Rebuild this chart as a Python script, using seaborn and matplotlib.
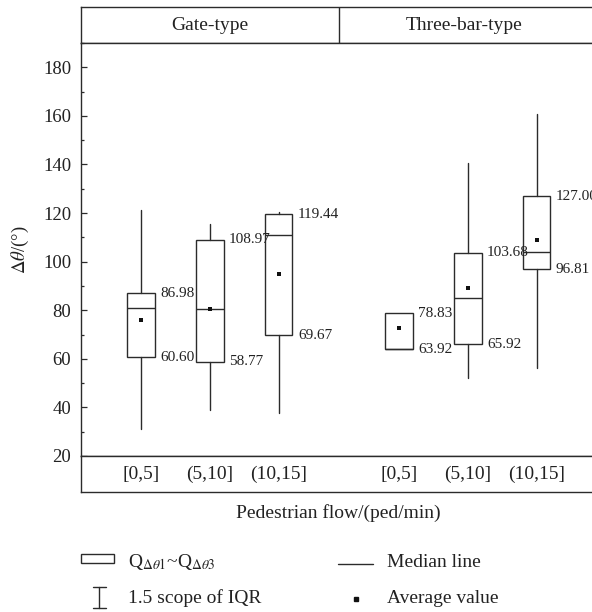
import matplotlib
matplotlib.use("Agg")
import matplotlib.pyplot as plt
from matplotlib.ticker import MultipleLocator
from matplotlib.patches import Rectangle
import seaborn as sns

# Summary statistics (degrees)
groups = ["Gate-type", "Three-bar-type"]
flow_labels = ["[0,5]", "(5,10]", "(10,15]"]
q1 = [60.60, 58.77, 69.67, 63.92, 65.92, 96.81]
q3 = [86.98, 108.97, 119.44, 78.83, 103.68, 127.00]
median = [80.9, 80.5, 111.1, 64.2, 84.9, 103.8]
mean = [75.8, 80.5, 94.9, 72.7, 89.3, 109.1]
whisker_low = [31.1, 39.0, 37.6, 63.92, 52.0, 56.2]
whisker_high = [121.2, 115.7, 120.5, 78.83, 140.7, 160.7]

sns.set_theme(style="ticks")
plt.rcParams["font.family"] = ["Liberation Serif", "DejaVu Serif"]
plt.rcParams["mathtext.fontset"] = "stix"

line_c = "#2b2b2b"
W, H = 592, 612
GAP = 0.75
XLIM = (-0.872, 6.613)
DIVIDER = 2.873

# x positions: three categories per group, a gap between the groups
n = len(flow_labels)
pos = [i + GAP * (i // n) + 0.0 * i for i in range(len(groups) * n)]

fig = plt.figure(figsize=(W / 100, H / 100), dpi=100)
left = 81 / W
width = (596 - 81) / W


def frac_box(top_px, bottom_px):
    return [left, 1 - bottom_px / H, width, (bottom_px - top_px) / H]


ax_head = fig.add_axes(frac_box(7, 43))
ax = fig.add_axes(frac_box(43, 456))
ax_foot = fig.add_axes(frac_box(456, 492))

stats = [
    dict(med=m, q1=a, q3=b, whislo=lo, whishi=hi, fliers=[])
    for m, a, b, lo, hi in zip(median, q1, q3, whisker_low, whisker_high)
]
ax.bxp(
    stats, positions=pos, widths=0.4, showcaps=False, showfliers=False,
    patch_artist=True,
    boxprops=dict(facecolor="white", edgecolor=line_c, linewidth=1.0),
    medianprops=dict(color=line_c, linewidth=1.0),
    whiskerprops=dict(color=line_c, linewidth=1.0),
)
sns.scatterplot(x=pos, y=mean, marker="s", s=12, color="#111111",
                linewidth=0, ax=ax, zorder=5, legend=False)

for x, a, b in zip(pos, q1, q3):
    for v in (b, a):
        ax.annotate(f"{v:.2f}", xy=(x + 0.2, v), xytext=(4, 0),
                    textcoords="offset points", ha="left", va="center",
                    fontsize=11, color="#222222")

ax.set_xlim(*XLIM)
ax.set_ylim(20, 190)
ax.set_xticks([])
ax.set_yticks(range(20, 181, 20))
ax.yaxis.set_minor_locator(MultipleLocator(10))
ax.tick_params(axis="y", which="major", direction="in", length=4.5,
               width=0.9, pad=7, labelsize=13.5, colors=line_c,
               labelcolor="#222222")
ax.tick_params(axis="y", which="minor", direction="in", length=2.5,
               width=0.9, colors=line_c)
ax.set_ylabel(r"$\Delta\theta$/(°)", fontsize=13.5, labelpad=9,
              color="#222222")

# header strip
ax_head.set_xlim(*XLIM)
ax_head.set_ylim(0, 1)
ax_head.set_xticks([])
ax_head.set_yticks([])
ax_head.axvline(DIVIDER, color=line_c, linewidth=1.0)
for g, gx in zip(groups, [1.0, 4.7]):
    ax_head.text(gx, 0.5, g, ha="center", va="center", fontsize=14,
                 color="#222222")

# footer strip with category labels
ax_foot.set_xlim(*XLIM)
ax_foot.set_ylim(0, 1)
ax_foot.set_xticks([])
ax_foot.set_yticks([])
for x, lab in zip(pos, flow_labels * len(groups)):
    ax_foot.text(x, 0.5, lab, ha="center", va="center", fontsize=14,
                 color="#222222")
ax_foot.set_xlabel("Pedestrian flow/(ped/min)", fontsize=14, labelpad=9,
                   color="#222222")

for a in (ax_head, ax, ax_foot):
    for sp in a.spines.values():
        sp.set_color(line_c)
        sp.set_linewidth(1.0)

# legend drawn in pixel coordinates
leg = fig.add_axes([0, 0, 1, 1], zorder=-1)
leg.set_xlim(0, W)
leg.set_ylim(H, 0)
leg.axis("off")
leg.add_patch(Rectangle((80.7, 554), 33.6, 8.7, facecolor="white",
                        edgecolor=line_c, linewidth=1.0))
leg.text(128.3, 566.7, r"Q$_{\Delta\theta1}$~Q$_{\Delta\theta3}$",
         fontsize=14, va="baseline", color="#222222")
leg.plot([99.3, 99.3], [586.7, 608], color=line_c, linewidth=1.0)
leg.plot([93.3, 105.7], [586.7, 586.7], color=line_c, linewidth=1.0)
leg.plot([93.3, 105.7], [608, 608], color=line_c, linewidth=1.0)
leg.text(128.3, 603.3, "1.5 scope of IQR", fontsize=14, va="baseline",
         color="#222222")
leg.plot([338.3, 373.3], [564, 564], color=line_c, linewidth=1.0)
leg.text(386.7, 567.3, "Median line", fontsize=14, va="baseline",
         color="#222222")
leg.plot([356], [599.3], marker="s", markersize=3.4, color="#111111",
         linestyle="none")
leg.text(386.7, 602.7, "Average value", fontsize=14, va="baseline",
         color="#222222")

fig.savefig("out.png", dpi=100)
plt.close(fig)
